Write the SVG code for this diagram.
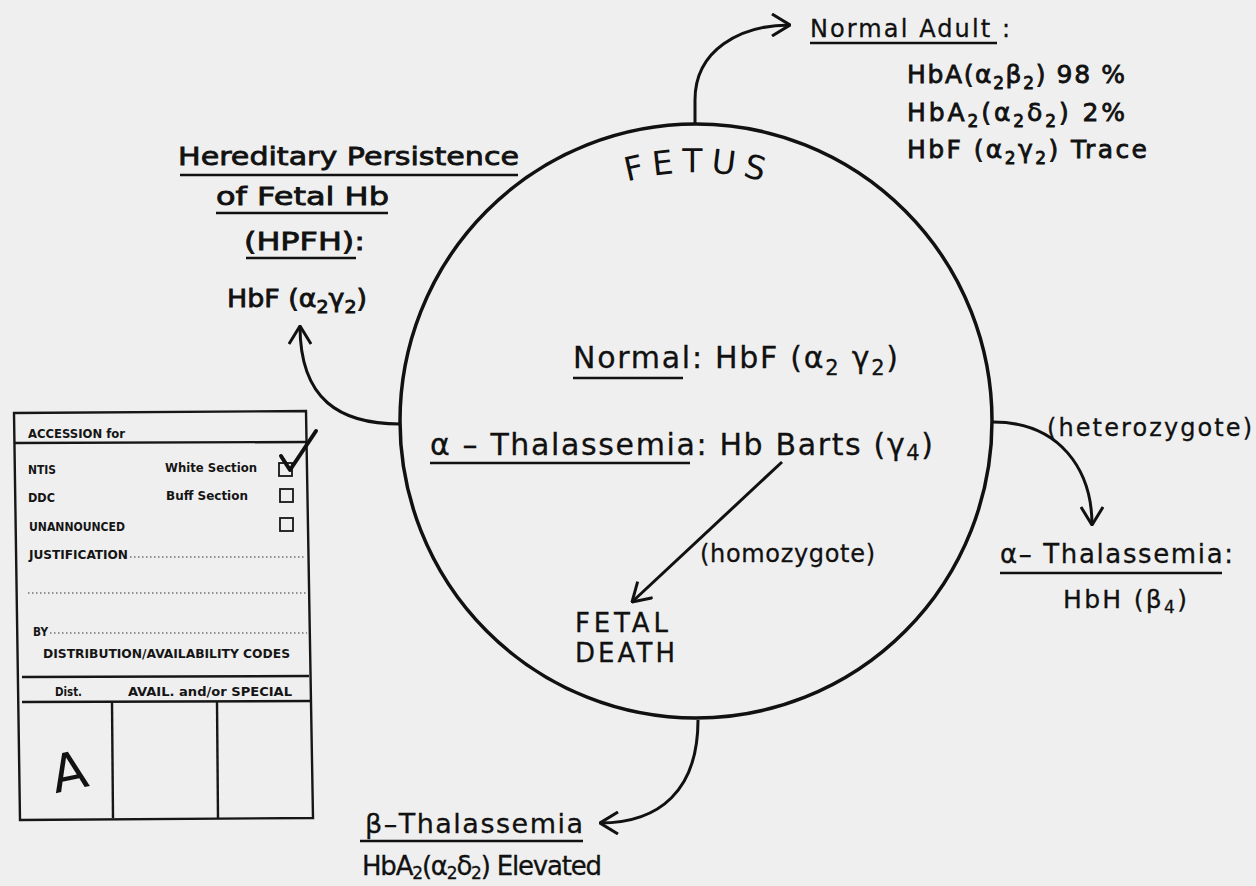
<svg xmlns="http://www.w3.org/2000/svg" width="1256" height="886" viewBox="0 0 1256 886">
<style>
.t{font-family:"DejaVu Sans","Liberation Sans",sans-serif;fill:#111;stroke:#111;stroke-width:0.3}
.hb{font-family:"DejaVu Sans","Liberation Sans",sans-serif;fill:#111;stroke:#111;stroke-width:0.8}
.ul{stroke:#111;stroke-width:2.6;fill:none}
.con{stroke:#111;stroke-width:3;fill:none;marker-end:url(#ah)}
.bx{font-family:"DejaVu Sans Condensed","DejaVu Sans",sans-serif;font-weight:bold;fill:#151515}
.bl{stroke:#161616;stroke-width:2.4;fill:none}
.dot{stroke:#333;stroke-width:1.2;stroke-dasharray:1.5 2.5;fill:none}
.cb{stroke:#161616;stroke-width:1.8;fill:none}
</style>
<defs>
<marker id="ah" viewBox="0 0 20 24" refX="19" refY="12" markerWidth="20" markerHeight="24" markerUnits="userSpaceOnUse" orient="auto">
<path d="M1,1 L19,12 L1,23" fill="none" stroke="#111" stroke-width="3"/>
</marker>
<path id="fetusArc" d="M560,212 A253,253 0 0,1 832,212"/>
</defs>
<rect width="1256" height="886" fill="#efefef"/>

<g id="fetus">
<ellipse cx="696" cy="421" rx="296" ry="297" fill="none" stroke="#111" stroke-width="3.5"/>
<text font-family="DejaVu Sans,sans-serif" font-size="33" fill="#111" letter-spacing="8" text-anchor="middle"><textPath href="#fetusArc" startOffset="51%">FETUS</textPath></text>
<text class="t" x="573" y="368" font-size="30" textLength="325" lengthAdjust="spacing">Normal: HbF (α<tspan font-size="21" dy="7">2</tspan><tspan dy="-7"> γ</tspan><tspan font-size="21" dy="7">2</tspan><tspan dy="-7">)</tspan></text>
<line class="ul" x1="573" y1="378" x2="683" y2="378"/>
<text class="t" x="430" y="455" font-size="30" textLength="503" lengthAdjust="spacing">α – Thalassemia: Hb Barts (γ<tspan font-size="21" dy="5">4</tspan><tspan dy="-5">)</tspan></text>
<line class="ul" x1="430" y1="463" x2="690" y2="463"/>
</g>

<g id="normal-adult">
<text class="t" x="810" y="37" font-size="24" textLength="200" lengthAdjust="spacing">Normal Adult :</text>
<line class="ul" x1="810" y1="43" x2="997" y2="43"/>
<text class="hb" x="907" y="83" font-size="25" textLength="218" lengthAdjust="spacing">HbA(α<tspan font-size="17" dy="6">2</tspan><tspan dy="-6">β</tspan><tspan font-size="17" dy="6">2</tspan><tspan dy="-6">) 98 %</tspan></text>
<text class="hb" x="907" y="121" font-size="25" textLength="218" lengthAdjust="spacing">HbA<tspan font-size="17" dy="6">2</tspan><tspan dy="-6">(α</tspan><tspan font-size="17" dy="6">2</tspan><tspan dy="-6">δ</tspan><tspan font-size="17" dy="6">2</tspan><tspan dy="-6">)   2%</tspan></text>
<text class="hb" x="907" y="158" font-size="25" textLength="240" lengthAdjust="spacing">HbF (α<tspan font-size="17" dy="6">2</tspan><tspan dy="-6">γ</tspan><tspan font-size="17" dy="6">2</tspan><tspan dy="-6">) Trace</tspan></text>
</g>

<g id="hpfh">
<text class="hb" x="178" y="165" font-size="25" textLength="341" lengthAdjust="spacingAndGlyphs">Hereditary Persistence</text>
<line class="ul" x1="180" y1="175" x2="518" y2="175"/>
<text class="hb" x="216" y="205" font-size="25" textLength="173" lengthAdjust="spacingAndGlyphs">of Fetal Hb</text>
<line class="ul" x1="216" y1="213" x2="388" y2="213"/>
<text class="hb" x="244" y="250" font-size="25" textLength="121" lengthAdjust="spacingAndGlyphs">(HPFH):</text>
<line class="ul" x1="246" y1="258" x2="356" y2="258"/>
<text class="hb" x="227" y="307" font-size="24" textLength="140" lengthAdjust="spacingAndGlyphs">HbF (α<tspan font-size="17" dy="6">2</tspan><tspan dy="-6">γ</tspan><tspan font-size="17" dy="6">2</tspan><tspan dy="-6">)</tspan></text>
</g>

<g id="alpha-thal-het">
<text class="t" x="1000" y="563" font-size="26" textLength="233" lengthAdjust="spacing">α– Thalassemia:</text>
<line class="ul" x1="1000" y1="573" x2="1222" y2="573"/>
<text class="t" x="1063" y="608" font-size="25" textLength="124" lengthAdjust="spacing">HbH (β<tspan font-size="17" dy="5">4</tspan><tspan dy="-5">)</tspan></text>
</g>

<g id="fetal-death">
<text class="t" x="575" y="632" font-size="26" textLength="93" lengthAdjust="spacing">FETAL</text>
<text class="t" x="575" y="662" font-size="26" textLength="100" lengthAdjust="spacing">DEATH</text>
</g>

<g id="beta-thal">
<text class="t" x="365" y="833" font-size="27" textLength="218" lengthAdjust="spacing">β–Thalassemia</text>
<line class="ul" x1="360" y1="841" x2="583" y2="841"/>
<text class="t" x="362" y="875" font-size="26" textLength="240" lengthAdjust="spacing">HbA<tspan font-size="17" dy="4">2</tspan><tspan dy="-4">(α</tspan><tspan font-size="17" dy="4">2</tspan><tspan dy="-4">δ</tspan><tspan font-size="17" dy="4">2</tspan><tspan dy="-4">) Elevated</tspan></text>
</g>

<g id="connectors">
<path class="con" d="M695,123 L695,100 C695,50 740,25 790,25"/>
<path class="con" d="M400,424 C340,424 300,400 300,326"/>
<path class="con" d="M993,422 C1060,422 1092,470 1092,525"/>
<path class="con" d="M698,720 C698,790 660,823 600,823"/>
<path class="con" d="M782,462 L632,602"/>
<text class="t" x="1047" y="436" font-size="24" textLength="205" lengthAdjust="spacing">(heterozygote)</text>
<text class="t" x="700" y="562" font-size="24" textLength="175" lengthAdjust="spacing">(homozygote)</text>
</g>

<g id="accession-form">
<path class="bl" d="M14,413 L306,411 L313,818 L20,820 Z"/>
<line class="bl" x1="14" y1="443" x2="307" y2="442"/>
<line class="bl" x1="22" y1="677" x2="309" y2="676"/>
<line class="bl" x1="22" y1="702" x2="310" y2="701"/>
<line class="bl" x1="112" y1="702" x2="113" y2="818"/>
<line class="bl" x1="217" y1="702" x2="218" y2="818"/>
<line class="dot" x1="130" y1="557" x2="306" y2="557"/>
<line class="dot" x1="28" y1="593" x2="307" y2="593"/>
<line class="dot" x1="50" y1="633" x2="307" y2="633"/>
<text class="bx" x="28" y="438" font-size="12" textLength="97" lengthAdjust="spacingAndGlyphs">ACCESSION for</text>
<text class="bx" x="28" y="474" font-size="12" textLength="28" lengthAdjust="spacingAndGlyphs">NTIS</text>
<text class="bx" x="165" y="472" font-size="12" textLength="92" lengthAdjust="spacingAndGlyphs">White Section</text>
<text class="bx" x="28" y="502" font-size="12" textLength="27" lengthAdjust="spacingAndGlyphs">DDC</text>
<text class="bx" x="166" y="500" font-size="12" textLength="82" lengthAdjust="spacingAndGlyphs">Buff Section</text>
<text class="bx" x="29" y="531" font-size="12" textLength="96" lengthAdjust="spacingAndGlyphs">UNANNOUNCED</text>
<text class="bx" x="29" y="559" font-size="12" textLength="99" lengthAdjust="spacingAndGlyphs">JUSTIFICATION</text>
<text class="bx" x="33" y="636" font-size="12" textLength="15" lengthAdjust="spacingAndGlyphs" fill="#444">BY</text>
<text class="bx" x="43" y="658" font-size="13" textLength="247" lengthAdjust="spacingAndGlyphs" fill="#333">DISTRIBUTION/AVAILABILITY CODES</text>
<text class="bx" x="55" y="696" font-size="12" textLength="27" lengthAdjust="spacingAndGlyphs" fill="#555">Dist.</text>
<text class="bx" x="128" y="696" font-size="12" textLength="164" lengthAdjust="spacingAndGlyphs" fill="#333">AVAIL. and/or SPECIAL</text>
<rect class="cb" x="279" y="463" width="13" height="13"/>
<rect class="cb" x="280" y="489" width="13" height="13"/>
<rect class="cb" x="280" y="518" width="13" height="13"/>
<path d="M281,456 L290,470 L316,431" fill="none" stroke="#111" stroke-width="4" stroke-linecap="round" stroke-linejoin="round"/>
<text x="50" y="790" font-family="DejaVu Sans,sans-serif" font-size="52" fill="#111" transform="rotate(-12 68 765)">A</text>
</g>
</svg>
